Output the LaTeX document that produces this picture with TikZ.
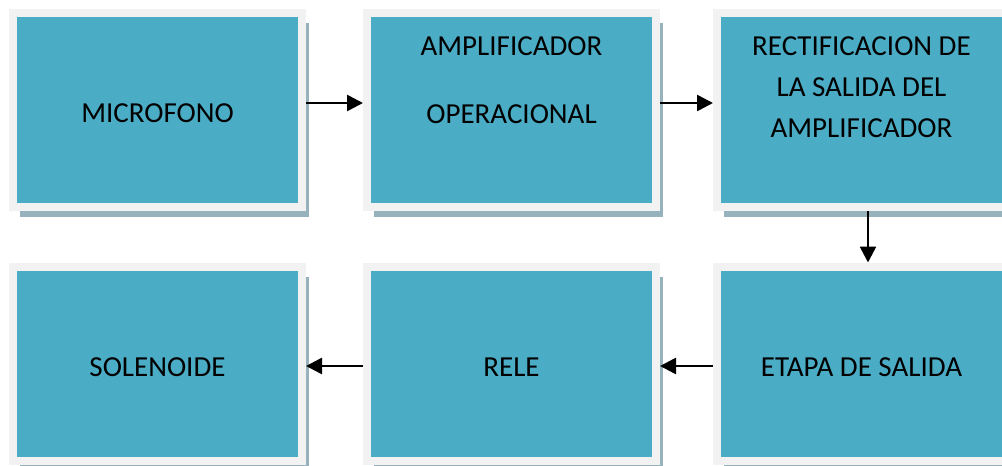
\documentclass[tikz,border=0pt]{standalone}
\usepackage{fontspec}
\setmainfont{Carlito}
\usepackage{tikz}
\usetikzlibrary{shadows, arrows.meta}

\definecolor{boxblue}{RGB}{75,172,198}
\definecolor{framegray}{RGB}{242,242,242}
\definecolor{shadowgray}{RGB}{150,178,188}

\begin{document}
\begin{tikzpicture}[x=1pt, y=-1pt,
  every node/.style={font=\fontsize{29}{41}\selectfont},
  block/.style={draw=framegray, line width=8pt, fill=boxblue, inner sep=0pt,
    minimum width=289pt, minimum height=194pt, align=center,
    general shadow={fill=shadowgray, shadow xshift=7pt, shadow yshift=-10pt}},
  oneline/.style={text height=26pt},
  flow/.style={line width=2.6pt, -{Triangle[length=16pt, width=16pt]}}]
  \useasboundingbox (0,0) rectangle (1002,466);
  \clip (0,0) rectangle (1002,466);
  \node[block, oneline] (mic) at (157.5,110) {MICROFONO};
  \node[block, text depth=60pt] (amp) at (511.5,110) {AMPLIFICADOR\\[27pt]OPERACIONAL};
  \node[block, text depth=46pt] (rect) at (861.5,110) {RECTIFICACION DE\\LA SALIDA DEL\\AMPLIFICADOR};
  \node[block, oneline] (etapa) at (861.5,363.5) {ETAPA DE SALIDA};
  \node[block, oneline] (rele) at (511.5,363.5) {RELE};
  \node[block, oneline] (sol) at (157.5,363.5) {SOLENOIDE};
  \draw[flow] ([yshift=7pt]mic.east) -- ([yshift=7pt]amp.west);
  \draw[flow] ([yshift=7pt]amp.east) -- ([yshift=7pt]rect.west);
  \draw[flow] ([xshift=6.5pt]rect.south) -- ([xshift=6.5pt]etapa.north);
  \draw[flow] ([yshift=-2.5pt]etapa.west) -- ([yshift=-2.5pt]rele.east);
  \draw[flow] ([yshift=-2.5pt]rele.west) -- ([yshift=-2.5pt]sol.east);
\end{tikzpicture}
\end{document}
